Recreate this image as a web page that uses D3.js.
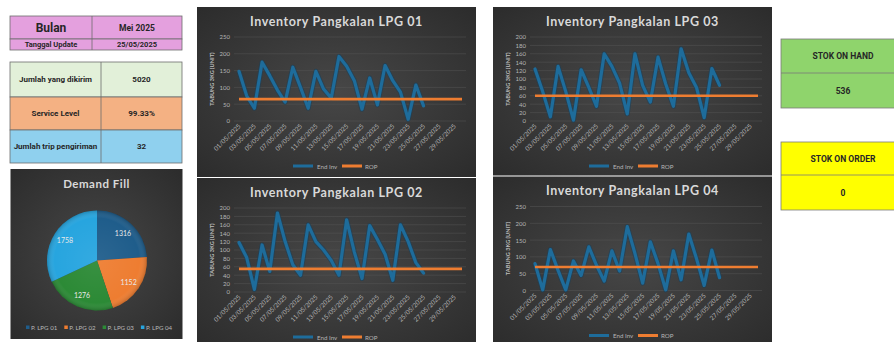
<!DOCTYPE html>
<html>
<head>
<meta charset="utf-8">
<script src="https://cdn.jsdelivr.net/npm/d3@7"></script>
<style>
  html, body { margin: 0; padding: 0; background: #ffffff; }
  svg { display: block; }
  .narrow { font-family: "Liberation Sans Narrow", "Roboto", "Liberation Sans", sans-serif; font-weight: bold; }
  .ttl { font-family: "Lato", "Open Sans", sans-serif; font-weight: bold; }
  .lbl { font-family: "Lato", "Open Sans", sans-serif; }
</style>
</head>
<body>
<svg id="dash" width="894" height="342"></svg>
<script>
// ---- Dashboard data ----
const headerLabels = ["Bulan", "Tanggal Update"];
const headerValues = ["Mei 2025", "25/05/2025"];

const summaryLabels = ["Jumlah yang dikirim", "Service Level", "Jumlah trip pengiriman"];
const summaryValues = ["5020", "99.33%", "32"];

const stockLabels = ["STOK ON HAND", "STOK ON ORDER"];
const stockValues = ["536", "0"];

const pieNames = ["P. LPG 01", "P. LPG 02", "P. LPG 03", "P. LPG 04"];
const pieValues = [1316, 1152, 1276, 1758];

const days = [
  "01/05/2025", "02/05/2025", "03/05/2025", "04/05/2025", "05/05/2025",
  "06/05/2025", "07/05/2025", "08/05/2025", "09/05/2025", "10/05/2025",
  "11/05/2025", "12/05/2025", "13/05/2025", "14/05/2025", "15/05/2025",
  "16/05/2025", "17/05/2025", "18/05/2025", "19/05/2025", "20/05/2025",
  "21/05/2025", "22/05/2025", "23/05/2025", "24/05/2025", "25/05/2025",
  "26/05/2025", "27/05/2025", "28/05/2025", "29/05/2025", "30/05/2025"
];
// every other date is printed on the category axis
const dayTickLabels = [
  "01/05/2025", "03/05/2025", "05/05/2025", "07/05/2025", "09/05/2025",
  "11/05/2025", "13/05/2025", "15/05/2025", "17/05/2025", "19/05/2025",
  "21/05/2025", "23/05/2025", "25/05/2025", "27/05/2025", "29/05/2025"
];

// End-of-day inventory per pangkalan (01/05 – 25/05)
const endInv01 = [148, 75, 38, 175, 135, 92, 56, 160, 100, 38, 148, 95, 68, 192, 163, 120, 35, 128, 48, 165, 120, 86, 5, 107, 45];
const endInv02 = [118, 82, 6, 112, 49, 188, 120, 65, 40, 160, 120, 100, 75, 40, 172, 95, 32, 158, 125, 90, 28, 160, 120, 70, 45];
const endInv03 = [124, 70, 10, 130, 70, 2, 122, 80, 35, 160, 130, 90, 17, 160, 85, 45, 152, 88, 35, 172, 115, 80, 8, 125, 85];
const endInv04 = [80, 2, 122, 60, 2, 88, 45, 130, 75, 28, 118, 58, 190, 110, 22, 145, 80, 2, 118, 32, 168, 95, 15, 120, 38];

const ropValues = [65, 55, 60, 70];

const yTicks01 = [0, 50, 100, 150, 200, 250];
const yTicks02 = [0, 20, 40, 60, 80, 100, 120, 140, 160, 180, 200];
const yTicks03 = [0, 20, 40, 60, 80, 100, 120, 140, 160, 180, 200];
const yTicks04 = [0, 50, 100, 150, 200, 250];

// ---- Drawing ----
const svg = d3.select("#dash");
const defs = svg.append("defs");

const bg = defs.append("radialGradient").attr("id", "darkPanel")
  .attr("cx", "50%").attr("cy", "50%").attr("r", "75%");
bg.append("stop").attr("offset", "0%").attr("stop-color", "#474747");
bg.append("stop").attr("offset", "100%").attr("stop-color", "#2a2a2a");

const shine = defs.append("radialGradient").attr("id", "pieShine")
  .attr("cx", "50%").attr("cy", "50%").attr("r", "50%");
shine.append("stop").attr("offset", "0%").attr("stop-color", "#ffffff").attr("stop-opacity", 0.06);
shine.append("stop").attr("offset", "85%").attr("stop-color", "#ffffff").attr("stop-opacity", 0);
shine.append("stop").attr("offset", "100%").attr("stop-color", "#000000").attr("stop-opacity", 0.18);

const cellBorder = "#6d6d6d";

// Two-column tables on the left
function drawTable(x0, colSplit, x1, rowEdges, labels, values, fills, fontSizes) {
  const g = svg.append("g");
  labels.forEach((lab, i) => {
    const y0 = rowEdges[i], y1 = rowEdges[i + 1];
    g.append("rect").attr("x", x0).attr("y", y0).attr("width", x1 - x0).attr("height", y1 - y0)
      .attr("fill", fills[i]).attr("stroke", cellBorder).attr("stroke-width", 0.8);
    g.append("line").attr("x1", colSplit).attr("x2", colSplit).attr("y1", y0).attr("y2", y1)
      .attr("stroke", cellBorder).attr("stroke-width", 0.8);
    g.append("text").attr("class", "narrow")
      .attr("x", (x0 + colSplit) / 2).attr("y", (y0 + y1) / 2)
      .attr("text-anchor", "middle").attr("dominant-baseline", "central")
      .attr("font-size", fontSizes[i][0]).attr("fill", "#262626").text(lab);
    g.append("text").attr("class", "narrow")
      .attr("x", (colSplit + x1) / 2).attr("y", (y0 + y1) / 2)
      .attr("text-anchor", "middle").attr("dominant-baseline", "central")
      .attr("font-size", fontSizes[i][1]).attr("fill", "#262626").text(values[i]);
  });
}

drawTable(10, 92, 182, [16, 39, 50], headerLabels, headerValues,
  ["#e4a0de", "#e4a0de"], [[12, 8.5], [7.5, 7.5]]);

drawTable(10, 101, 182, [62, 97, 130, 163], summaryLabels, summaryValues,
  ["#e2f0d9", "#f4b183", "#8fd0ee"], [[8, 8], [8, 8], [8, 8]]);

// Stock boxes on the right
function drawStockBox(y0, ySplit, y1, label, value, fill) {
  const g = svg.append("g");
  g.append("rect").attr("x", 781).attr("y", y0).attr("width", 120).attr("height", y1 - y0)
    .attr("fill", fill).attr("stroke", "#7a7a7a").attr("stroke-width", 0.8);
  g.append("line").attr("x1", 781).attr("x2", 894).attr("y1", ySplit).attr("y2", ySplit)
    .attr("stroke", "#7a7a7a").attr("stroke-width", 0.8);
  g.append("text").attr("class", "narrow").attr("x", 843).attr("y", (y0 + ySplit) / 2)
    .attr("text-anchor", "middle").attr("dominant-baseline", "central")
    .attr("font-size", 8.5).attr("fill", "#262626").text(label);
  g.append("text").attr("class", "narrow").attr("x", 843).attr("y", (ySplit + y1) / 2)
    .attr("text-anchor", "middle").attr("dominant-baseline", "central")
    .attr("font-size", 8.5).attr("fill", "#262626").text(value);
}
drawStockBox(39, 73, 108, stockLabels[0], stockValues[0], "#8fd46c");
drawStockBox(142, 175, 210, stockLabels[1], stockValues[1], "#ffff00");

// Demand Fill pie
(function drawPie() {
  const px = 10.5, py = 169, pw = 172, ph = 170;
  const g = svg.append("g").attr("transform", `translate(${px},${py})`);
  g.append("rect").attr("width", pw).attr("height", ph).attr("fill", "url(#darkPanel)");
  g.append("text").attr("class", "ttl").attr("x", pw / 2).attr("y", 14)
    .attr("text-anchor", "middle").attr("dominant-baseline", "central")
    .attr("font-size", 11.5).attr("letter-spacing", 0.5).attr("fill", "#d9d9d9").text("Demand Fill");

  const colors = d3.scaleOrdinal().domain(pieNames)
    .range(["#1f5d8b", "#ee7d31", "#2c8a36", "#27a5df"]);
  const r = 50;
  const cx = 86.5, cy = 91.5;
  const pie = d3.pie().sort(null).value(d => d.value);
  const arcs = pie(pieNames.map((n, i) => ({ name: n, value: pieValues[i] })));
  const arc = d3.arc().innerRadius(0).outerRadius(r);
  const labelArc = d3.arc().innerRadius(r * 0.52).outerRadius(r);
  const pg = g.append("g").attr("transform", `translate(${cx},${cy})`);
  pg.selectAll("path.slice").data(arcs).join("path").attr("class", "slice")
    .attr("d", arc).attr("fill", d => colors(d.data.name));
  pg.append("circle").attr("r", r).attr("fill", "url(#pieShine)");
  pg.selectAll("text").data(arcs).join("text").attr("class", "lbl")
    .attr("transform", d => `translate(${labelArc.centroid(d)})`)
    .attr("text-anchor", "middle").attr("dominant-baseline", "central")
    .attr("font-size", 7).attr("fill", "#e8e8e8").text(d => d.data.value);

  const lg = g.append("g").attr("transform", `translate(0,${158.5})`);
  pieNames.forEach((n, i) => {
    const lx = 15.5 + i * 38.3;
    lg.append("rect").attr("x", lx).attr("y", -2).attr("width", 3.5).attr("height", 3.5)
      .attr("fill", colors(n));
    lg.append("text").attr("class", "lbl").attr("x", lx + 5).attr("y", 0)
      .attr("dominant-baseline", "central").attr("font-size", 6.2)
      .attr("fill", "#b8b8b8").text(n);
  });
})();

// Inventory line charts
function drawInventory(panel, title, endInv, rop, yMax, yTicks) {
  const g = svg.append("g").attr("transform", `translate(${panel.x},${panel.y})`);
  g.append("rect").attr("width", panel.w).attr("height", panel.h).attr("fill", "url(#darkPanel)");

  const top = 30, bottom = 114;
  const x = d3.scalePoint().domain(days).range([42, 265]);
  const y = d3.scaleLinear().domain([0, yMax]).range([bottom, top]);

  g.append("text").attr("class", "ttl").attr("x", panel.w / 2).attr("y", 14)
    .attr("text-anchor", "middle").attr("dominant-baseline", "central")
    .attr("font-size", 12.5).attr("letter-spacing", 0.6).attr("fill", "#d9d9d9").text(title);

  // horizontal gridlines
  g.append("g").selectAll("line").data(yTicks).join("line")
    .attr("x1", 37).attr("x2", 269)
    .attr("y1", d => y(d)).attr("y2", d => y(d))
    .attr("stroke", "#565656").attr("stroke-width", 0.5);

  // value axis
  const yAxis = d3.axisLeft(y).tickValues(yTicks).tickSize(0).tickPadding(0);
  const ya = g.append("g").attr("transform", "translate(33,0)").call(yAxis);
  ya.select(".domain").remove();
  ya.selectAll("text").attr("class", "lbl").attr("font-size", 6).attr("fill", "#b5b5b5");

  g.append("text").attr("class", "lbl")
    .attr("transform", `translate(14,${(top + bottom) / 2}) rotate(-90)`)
    .attr("text-anchor", "middle").attr("dominant-baseline", "central")
    .attr("font-size", 5.6).attr("font-weight", "bold").attr("fill", "#bdbdbd")
    .text("TABUNG 3KG (UNIT)");

  // category axis, labels rotated 45°
  const xAxis = d3.axisBottom(x).tickValues(dayTickLabels).tickSize(0).tickPadding(0);
  const xa = g.append("g").attr("transform", `translate(0,${bottom + 4})`).call(xAxis);
  xa.select(".domain").remove();
  xa.selectAll("text").attr("class", "lbl").attr("font-size", 6.3).attr("fill", "#b5b5b5")
    .attr("text-anchor", "end").attr("dy", "0.35em").attr("dx", 0)
    .attr("transform", "rotate(-45)");

  // End Inv series
  const line = d3.line().x((d, i) => x(days[i])).y(d => y(d));
  g.append("path").datum(endInv).attr("d", line).attr("fill", "none")
    .attr("stroke", "#16425f").attr("stroke-width", 5).attr("stroke-opacity", 0.55)
    .attr("stroke-linejoin", "round");
  g.append("path").datum(endInv).attr("d", line).attr("fill", "none")
    .attr("stroke", "#1e6c9b").attr("stroke-width", 3.2)
    .attr("stroke-linejoin", "round").attr("stroke-linecap", "round");

  // ROP series
  const ropSeries = days.map(() => rop);
  g.append("path").datum(ropSeries).attr("d", line).attr("fill", "none")
    .attr("stroke", "#ee7d31").attr("stroke-width", 2.6);

  // legend
  const ly = 159;
  g.append("line").attr("x1", 96).attr("x2", 116).attr("y1", ly).attr("y2", ly)
    .attr("stroke", "#1e6c9b").attr("stroke-width", 3);
  g.append("text").attr("class", "lbl").attr("x", 120).attr("y", ly)
    .attr("dominant-baseline", "central").attr("font-size", 6.2).attr("fill", "#b5b5b5").text("End Inv");
  g.append("line").attr("x1", 145).attr("x2", 165).attr("y1", ly).attr("y2", ly)
    .attr("stroke", "#ee7d31").attr("stroke-width", 3);
  g.append("text").attr("class", "lbl").attr("x", 168).attr("y", ly)
    .attr("dominant-baseline", "central").attr("font-size", 6.2).attr("fill", "#b5b5b5").text("ROP");
}

drawInventory({ x: 197, y: 7, w: 279, h: 170 }, "Inventory Pangkalan LPG 01", endInv01, ropValues[0], 250, yTicks01);
drawInventory({ x: 197, y: 178, w: 279, h: 170 }, "Inventory Pangkalan LPG 02", endInv02, ropValues[1], 200, yTicks02);
drawInventory({ x: 493, y: 7, w: 279, h: 168.5 }, "Inventory Pangkalan LPG 03", endInv03, ropValues[2], 200, yTicks03);
drawInventory({ x: 493, y: 176.5, w: 279, h: 170 }, "Inventory Pangkalan LPG 04", endInv04, ropValues[3], 250, yTicks04);
</script>
</body>
</html>
